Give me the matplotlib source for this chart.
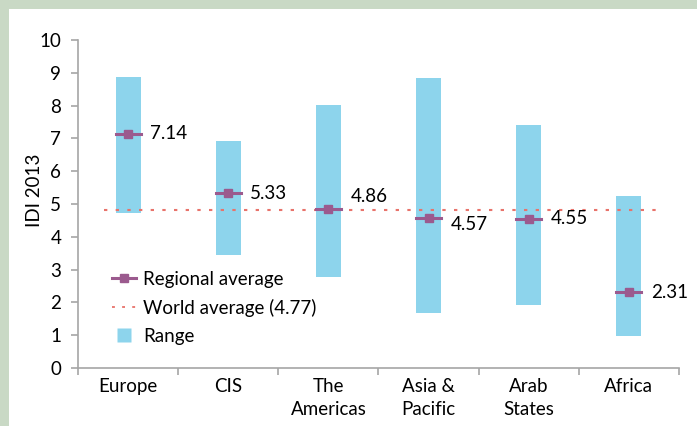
import matplotlib
matplotlib.use("Agg")
import matplotlib.pyplot as plt
from matplotlib.patches import Rectangle
from matplotlib.lines import Line2D
import numpy as np

regions = ["Europe", "CIS", "The\nAmericas", "Asia &\nPacific", "Arab\nStates", "Africa"]
range_min = [4.72, 3.44, 2.78, 1.67, 1.92, 0.98]
range_max = [8.86, 6.93, 8.02, 8.85, 7.41, 5.24]
regional_avg = [7.14, 5.33, 4.86, 4.57, 4.55, 2.31]
world_avg = 4.77
world_line_level = 4.83   # where the dotted line actually sits in the picture

plt.rcParams['font.family'] = ['Lato', 'DejaVu Sans']
FS = 13.5
dotted = (0, (1.6, 4))

fig = plt.figure(figsize=(6.97, 4.26), dpi=100)
fig.patch.set_facecolor('#c9d9c5')
fig.patches.append(Rectangle((9 / 697, 0), 1, 1 - 9 / 426, transform=fig.transFigure,
                             facecolor='white', edgecolor='none', zorder=-5))

ax = fig.add_axes([78 / 697, 58 / 426, 601 / 697, 328 / 426])
ax.set_facecolor('white')

x = np.arange(len(regions))
bar_w = 0.25
heights = np.array(range_max) - np.array(range_min)
ax.bar(x, heights, bottom=range_min, width=bar_w, color='#8dd4ec', zorder=1)

# world average dotted line
ax.plot([-0.24, 5.32], [world_line_level, world_line_level], linestyle=dotted,
        color='#e8736b', linewidth=1.5, zorder=2)

# regional average markers
for xi, v in zip(x, regional_avg):
    ax.plot([xi - bar_w / 2, xi + bar_w / 2], [v, v], color='#9b5a8e', linewidth=2.2,
            zorder=3)
    ax.plot([xi], [v], color='#9b5a8e', marker='s', markersize=6, zorder=4)

offsets = [0, 0, 0.36, -0.2, 0, 0]
for xi, v, off in zip(x, regional_avg, offsets):
    ax.text(xi + 0.22, v + off, f"{v:.2f}", fontsize=FS, va='center', ha='left')

ax.set_xlim(-0.5, 5.5)
ax.set_ylim(0, 10)
ax.set_yticks(range(0, 11))
ax.set_xticks(np.arange(-0.5, 6, 1))
ax.set_xticklabels([])
ax.set_xticks(x, minor=True)
ax.set_xticklabels(regions, minor=True, fontsize=FS, linespacing=1.45, va='top')
ax.tick_params(axis='x', which='minor', length=0, pad=7)
ax.tick_params(axis='x', which='major', length=5, color='#a6a6a6', width=1.2)
ax.tick_params(axis='y', length=5, color='#a6a6a6', width=1.2, labelsize=FS, pad=7)

for s in ['top', 'right']:
    ax.spines[s].set_visible(False)
for s in ['left', 'bottom']:
    ax.spines[s].set_color('#a6a6a6')
    ax.spines[s].set_linewidth(1.2)

ax.set_ylabel("IDI 2013", fontsize=FS)
ax.yaxis.set_label_coords(-0.058, 0.543)

handles = [
    Line2D([0], [0], color='#9b5a8e', linewidth=2.2, marker='s', markersize=6),
    Line2D([0], [0], color='#e8736b', linestyle=dotted, linewidth=1.3),
    Line2D([0], [0], color='none', marker='s', markersize=10,
           markerfacecolor='#8dd4ec', markeredgecolor='none'),
]
leg = ax.legend(handles, ["Regional average", "World average (4.77)", "Range"],
                loc='upper left', bbox_to_anchor=(0.044, 0.319), borderaxespad=0,
                frameon=False, fontsize=FS, handlelength=1.28, handletextpad=0.37,
                labelspacing=0.58)

fig.savefig("out.png", dpi=100, facecolor=fig.get_facecolor())
